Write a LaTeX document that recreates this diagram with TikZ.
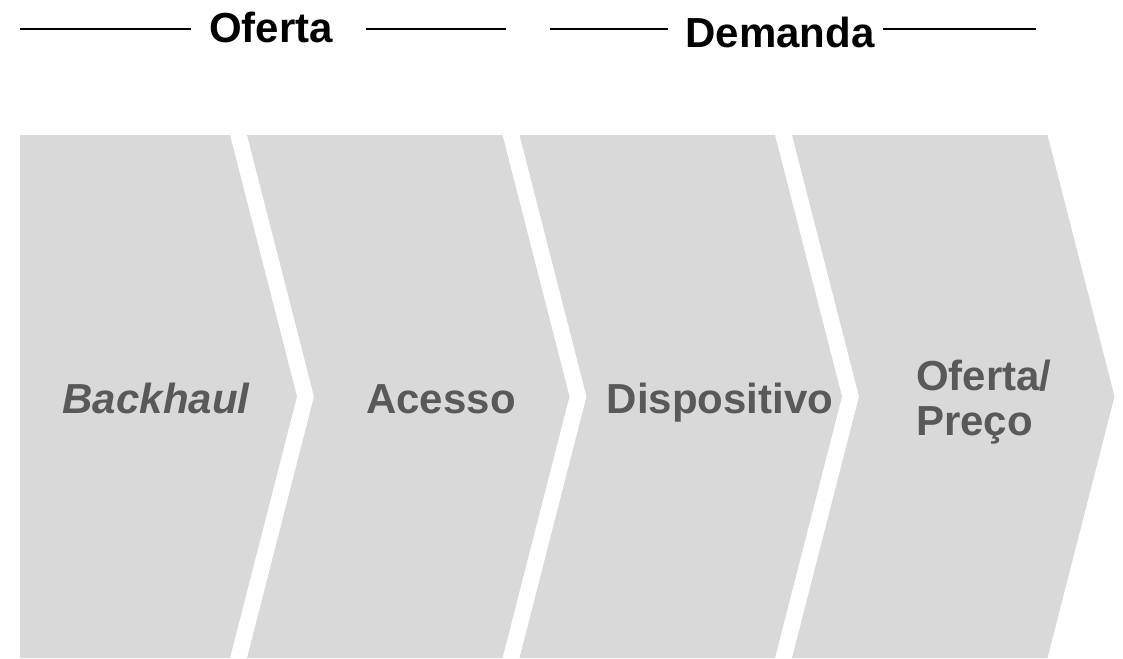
\documentclass[tikz,border=0pt]{standalone}
\usepackage{fontspec}
\setmainfont{Liberation Sans}
\definecolor{chevgrey}{HTML}{D9D9D9}
\definecolor{txtgrey}{HTML}{595959}
\tikzset{
  chev/.style={fill=chevgrey, draw=none},
  chevtext/.style={text=txtgrey, font=\fontsize{42}{46}\selectfont\bfseries, inner sep=0pt, anchor=base},
  titletext/.style={text=black, font=\fontsize{42}{46}\selectfont\bfseries, inner sep=0pt, anchor=base},
  rule/.style={draw=black, line width=2.2pt}
}
\begin{document}
\begin{tikzpicture}[x=1pt,y=-1pt]
\useasboundingbox (0,0) rectangle (1123,658);
% chevrons
\path[chev] (20,135) -- (230,135) -- (297,396.5) -- (230,658) -- (20,658) -- cycle;
\foreach \d in {272.5,545,817.5}{
  \path[chev] (247+\d-272.5,135) -- (230+\d,135) -- (297+\d,396.5) -- (230+\d,658) -- (247+\d-272.5,658) -- (314+\d-272.5,396.5) -- cycle;
}
% chevron labels
\node[chevtext] (backhaul) at (156,413) {\itshape Backhaul};
\node[chevtext] (acesso) at (441,413) {Acesso};
\node[chevtext] (disp) at (720,413) {Dispositivo};
\node[chevtext, align=left, anchor=base west, font=\fontsize{42}{45}\selectfont\bfseries] (preco) at (916,435) {Oferta/\\Preço};
% titles
\node[titletext] (oferta) at (271,43) {Oferta};
\node[titletext] (demanda) at (780,48) {Demanda};
\coordinate (l1a) at (20,29); \coordinate (l1b) at (191,29);
\coordinate (l2a) at (366,29); \coordinate (l2b) at (506,29);
\coordinate (l3a) at (550,29); \coordinate (l3b) at (668,29);
\coordinate (l4a) at (883,29); \coordinate (l4b) at (1036,29);
\draw[rule] (l1a) -- (l1b);
\draw[rule] (l2a) -- (l2b);
\draw[rule] (l3a) -- (l3b);
\draw[rule] (l4a) -- (l4b);
\end{tikzpicture}
\end{document}
